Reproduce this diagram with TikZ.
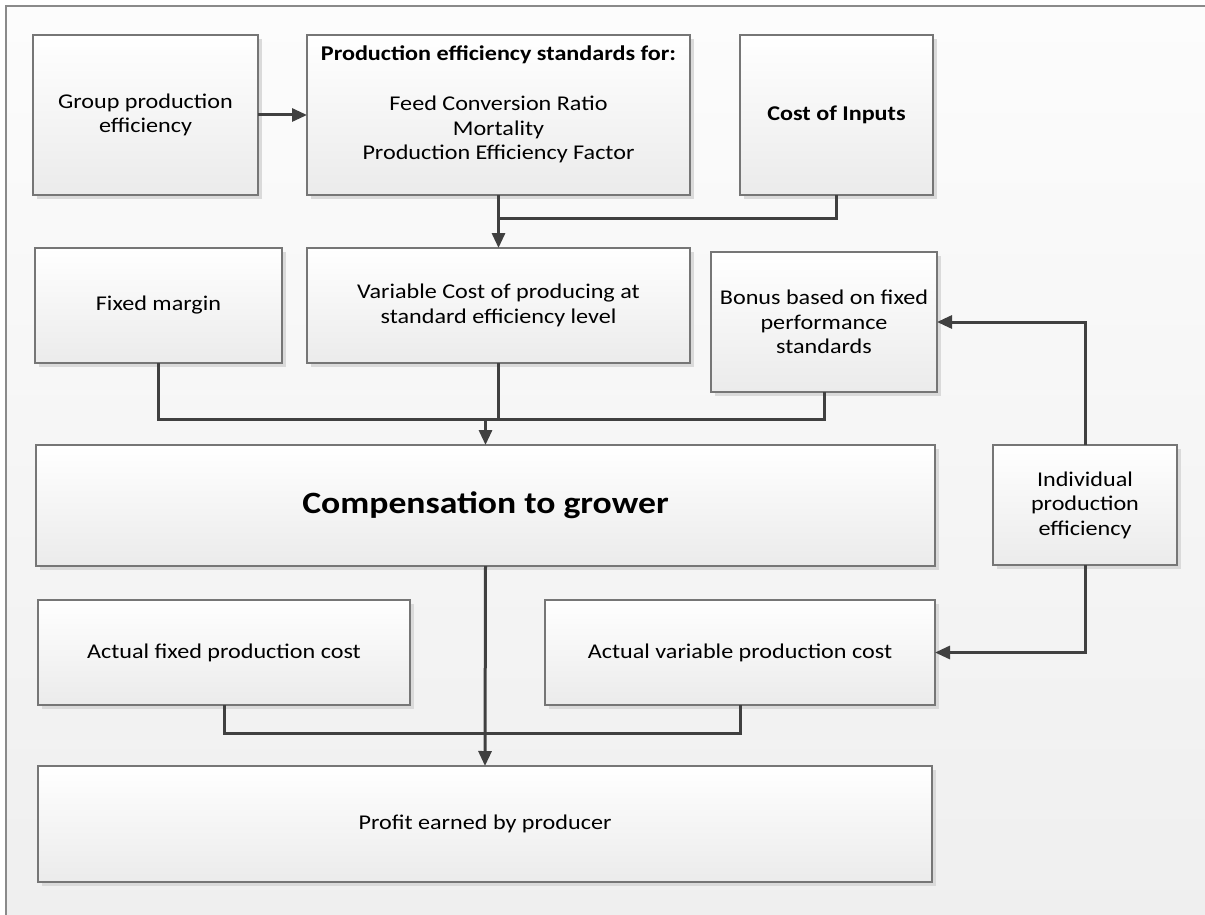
\documentclass[tikz,border=0pt]{standalone}
\usepackage{fontspec}
\setmainfont{Carlito}[FakeStretch=1.15]
\usetikzlibrary{arrows.meta,shadows}
\definecolor{boxline}{HTML}{767676}
\definecolor{boxbot}{HTML}{EBEBEB}
\definecolor{shadowc}{HTML}{DADADA}
\definecolor{connc}{HTML}{404040}
\definecolor{frame}{HTML}{8A8A8A}
\definecolor{bgtop}{HTML}{FCFCFC}
\definecolor{bgbot}{HTML}{EFEFEF}
\begin{document}
\begin{tikzpicture}[x=1pt,y=-1pt,
  box/.style={draw=boxline, line width=1.1pt, top color=white, bottom color=boxbot,
    drop shadow={shadow xshift=4pt,shadow yshift=-4pt,fill=shadowc,opacity=1},
    inner sep=0pt, outer sep=0pt, align=center, font=\fontsize{21}{24.4}\selectfont},
  conn/.style={draw=connc, line width=3pt},
  arr/.style={conn, -{Triangle[length=15pt,width=13pt]}},
]
\useasboundingbox (0,0) rectangle (1205,915);
\fill[white] (0,0) rectangle (1205,915);
\shade[top color=bgtop, bottom color=bgbot, draw=frame, line width=1.2pt] (6,6) rectangle (1215,925);

\node[box, minimum width=225pt, minimum height=160pt] (g) at (145.5,115) {Group production\\efficiency};
\node[box, minimum width=383pt, minimum height=160pt] (s) at (498.5,115)
  {\textbf{Production efficiency standards for:}\\[25.6pt]Feed Conversion Ratio\\Mortality\\Production Efficiency Factor\\\mbox{}};
\node[box, minimum width=193pt, minimum height=160pt] (c) at (836.5,115) {\textbf{Cost of Inputs}};

\node[box, minimum width=247pt, minimum height=115pt] (fm) at (158.5,305.5) {Fixed margin};
\node[box, minimum width=383pt, minimum height=115pt] (v) at (498.5,305.5) {Variable Cost of producing at\\standard efficiency level};
\node[box, minimum width=226pt, minimum height=140pt] (b) at (824,322) {Bonus based on fixed\\performance\\standards};

\node[box, minimum width=899pt, minimum height=121pt, font=\fontsize{31}{36}\selectfont\bfseries] (comp) at (485.5,505.5) {Compensation to grower};
\node[box, minimum width=184pt, minimum height=120pt] (ind) at (1085,505) {Individual\\production\\efficiency};

\node[box, minimum width=372pt, minimum height=105pt] (af) at (224,652.5) {Actual fixed production cost};
\node[box, minimum width=390pt, minimum height=105pt] (av) at (740,652.5) {Actual variable production cost};

\node[box, minimum width=894pt, minimum height=116pt] (p) at (485,824) {Profit earned by producer};

% connectors
\draw[arr] (g.east) -- (s.west);
\coordinate (h1) at (0,218);
\draw[conn] (c.south) -- (c.south |- h1) -- (s.south |- h1);
\draw[arr] (s.south) -- (v.north);

\coordinate (h2) at (0,419);
\draw[conn] (fm.south) -- (fm.south |- h2) -- (b.south |- h2) -- (b.south);
\draw[conn] (v.south) -- (v.south |- h2);
\draw[arr] (comp.north |- h2) -- (comp.north);

\draw[arr] (ind.north) |- (b.east);
\draw[arr] (ind.south) |- (av.east);

\coordinate (h3) at (0,733);
\draw[conn] (af.south) -- (af.south |- h3) -- (av.south |- h3) -- (av.south);
\draw[arr] (comp.south) -- (p.north);
\end{tikzpicture}
\end{document}
